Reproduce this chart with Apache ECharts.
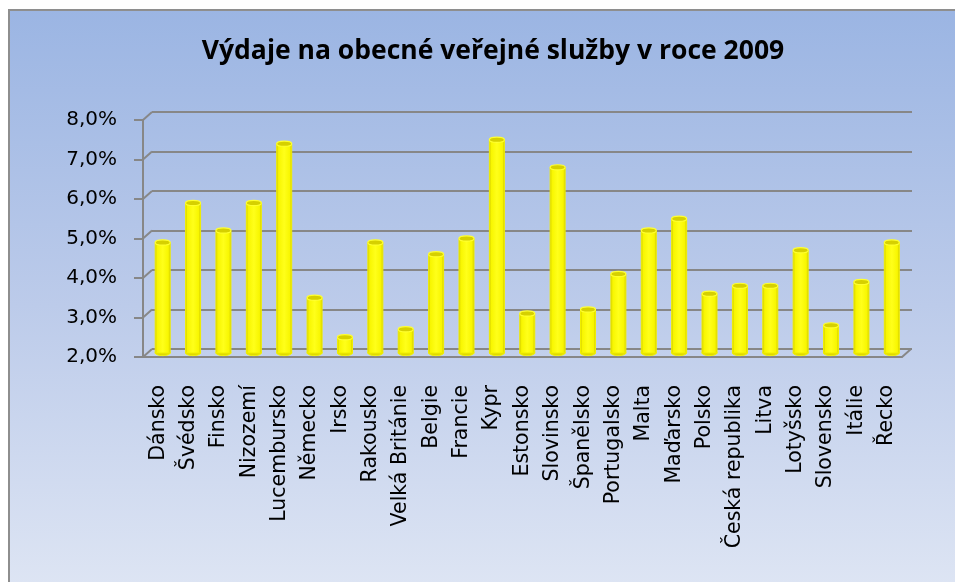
<!DOCTYPE html>
<html>
<head>
<meta charset="utf-8">
<script src="https://cdn.jsdelivr.net/npm/echarts@6/dist/echarts.min.js"></script>
<style>
  html, body { margin: 0; padding: 0; background: #ffffff; }
  #chart { width: 955px; height: 582px; }
</style>
</head>
<body>
<div id="chart"></div>
<script>
// Výdaje na obecné veřejné služby (podíl), rok 2009
const categories = ['Dánsko', 'Švédsko', 'Finsko', 'Nizozemí', 'Lucembursko', 'Německo', 'Irsko',
  'Rakousko', 'Velká Británie', 'Belgie', 'Francie', 'Kypr', 'Estonsko', 'Slovinsko', 'Španělsko',
  'Portugalsko', 'Malta', 'Maďarsko', 'Polsko', 'Česká republika', 'Litva', 'Lotyšsko', 'Slovensko',
  'Itálie', 'Řecko'];
const values = [4.8, 5.8, 5.1, 5.8, 7.3, 3.4, 2.4, 4.8, 2.6, 4.5, 4.9, 7.4, 3.0, 6.7, 3.1,
  4.0, 5.1, 5.4, 3.5, 3.7, 3.7, 4.6, 2.7, 3.8, 4.8];
const yMin = 2, yMax = 8, yStep = 1;
const yTickValues = [2, 3, 4, 5, 6, 7, 8];
const titleText = 'Výdaje na obecné veřejné služby v roce 2009';

const GRID_COLOR = '#878787';
const DEPTH = [9, -8];   // offset of the back wall relative to the front axes
const FONT = 'DejaVu Sans';

const chart = echarts.init(document.getElementById('chart'), null, { renderer: 'canvas' });

function fmtPct(v) { return v.toFixed(1).replace('.', ',') + '%'; }

// Cylinder-shaped columns drawn halfway into the depth
function renderCylinder(params, api) {
  const idx = api.value(0);
  const top = api.coord([idx, api.value(1)]);
  const base = api.coord([idx, yMin]);
  const w = 15, rx = w / 2, ry = 2.6;
  const body = new echarts.graphic.LinearGradient(0, 0, 1, 0, [
    { offset: 0, color: '#c4bc00' },
    { offset: 0.15, color: '#f8f600' },
    { offset: 0.5, color: '#ffff1a' },
    { offset: 0.85, color: '#f8f600' },
    { offset: 1, color: '#c4bc00' }
  ]);
  return {
    type: 'group',
    children: [
      { type: 'ellipse', shape: { cx: base[0], cy: base[1], rx: rx, ry: ry },
        style: { fill: '#e0da00', stroke: '#f5f500', lineWidth: 1 } },
      { type: 'rect', shape: { x: top[0] - rx, y: top[1], width: w, height: base[1] - top[1] },
        style: { fill: body, stroke: '#f0ee00', lineWidth: 1 } },
      { type: 'ellipse', shape: { cx: top[0], cy: top[1], rx: rx, ry: ry },
        style: { fill: '#d6d000', stroke: '#ffff30', lineWidth: 1.2 } }
    ]
  };
}

// Diagonal connectors from the front axes to the back wall
function renderDepthLines(params, api) {
  const v = api.value(1);
  const half = api.size([1, 0])[0] / 2;
  const children = [];
  const left = api.coord([0, v]);
  const x0 = left[0] - half, y0 = left[1];
  children.push({ type: 'line', shape: { x1: x0, y1: y0, x2: x0 + DEPTH[0], y2: y0 + DEPTH[1] },
    style: { stroke: GRID_COLOR, lineWidth: 2 } });
  if (v === yMin) {
    const right = api.coord([categories.length - 1, v]);
    const x1 = right[0] + half;
    children.push({ type: 'line', shape: { x1: x1, y1: y0, x2: x1 + DEPTH[0], y2: y0 + DEPTH[1] },
      style: { stroke: GRID_COLOR, lineWidth: 2 } });
  }
  return { type: 'group', children: children };
}

const option = {
  animation: false,
  graphic: [{
    type: 'rect', z: -10, silent: true,
    shape: { x: 9, y: 10, width: 960, height: 590 },
    style: {
      fill: new echarts.graphic.LinearGradient(0, 0, 0, 1, [
        { offset: 0, color: '#9bb5e3' },
        { offset: 0.5, color: '#bccbea' },
        { offset: 1, color: '#dfe6f4' }
      ]),
      stroke: '#8e8e8e', lineWidth: 2
    }
  }],
  title: {
    text: titleText,
    left: 488, top: 33, textAlign: 'center',
    textStyle: { fontFamily: 'Open Sans', fontWeight: 'bold', fontSize: 26.5, color: '#000000' }
  },
  grid: [
    { left: 152, top: 112, width: 760, height: 237 },   // back wall
    { left: 143, top: 120, width: 759, height: 237 },   // front axes
    { left: 147.5, top: 116, width: 759.5, height: 237 } // columns
  ],
  xAxis: [
    { gridIndex: 0, type: 'category', data: categories, show: false },
    {
      gridIndex: 1, type: 'category', data: categories,
      axisLine: { lineStyle: { color: GRID_COLOR, width: 2 } },
      axisTick: { length: 8, alignWithLabel: false, lineStyle: { color: GRID_COLOR, width: 2 } },
      axisLabel: { rotate: 90, margin: 28, interval: 0, fontFamily: FONT, fontSize: 20.5, color: '#000000' }
    },
    { gridIndex: 2, type: 'category', data: categories, show: false }
  ],
  yAxis: [
    {
      gridIndex: 0, type: 'value', min: yMin, max: yMax, interval: yStep,
      axisLine: { show: false }, axisTick: { show: false }, axisLabel: { show: false },
      splitLine: { show: true, lineStyle: { color: GRID_COLOR, width: 2 } }
    },
    {
      gridIndex: 1, type: 'value', min: yMin, max: yMax, interval: yStep,
      axisLine: { show: true, lineStyle: { color: GRID_COLOR, width: 2 } },
      axisTick: { show: true, length: 9, lineStyle: { color: GRID_COLOR, width: 2 } },
      splitLine: { show: false },
      axisLabel: { formatter: fmtPct, margin: 26, fontFamily: FONT, fontSize: 20, color: '#000000' }
    },
    { gridIndex: 2, type: 'value', min: yMin, max: yMax, interval: yStep, show: false }
  ],
  series: [
    {
      type: 'custom', xAxisIndex: 1, yAxisIndex: 1, silent: true, z: 1,
      renderItem: renderDepthLines,
      data: yTickValues.map(v => [0, v])
    },
    {
      type: 'custom', xAxisIndex: 2, yAxisIndex: 2, silent: true, z: 5,
      renderItem: renderCylinder,
      data: values.map((v, i) => [i, v])
    }
  ]
};

chart.setOption(option);
</script>
</body>
</html>
